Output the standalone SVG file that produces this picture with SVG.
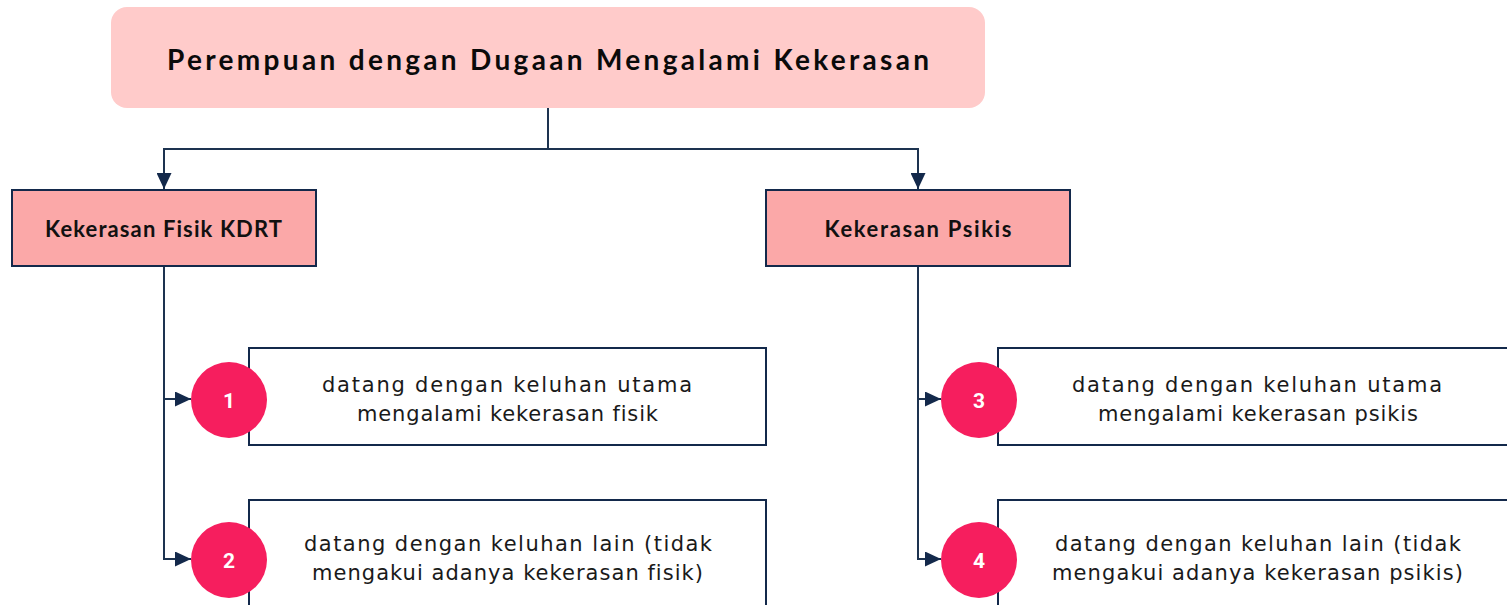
<svg xmlns="http://www.w3.org/2000/svg" width="1507" height="605" viewBox="0 0 1507 605">
  <style>
    .root-box { fill: #FFCBCA; }
    .cat-box { fill: #FBA8A8; stroke: #13294B; stroke-width: 2; }
    .item-box { fill: #FFFFFF; stroke: #13294B; stroke-width: 2; }
    .badge { fill: #F61E5E; }
    .wire { fill: none; stroke: #1D3350; stroke-width: 2; }
    text { font-variant-ligatures: none; }
    .title { font-family: Lato, "Open Sans", "Liberation Sans", sans-serif; font-weight: 700; font-size: 28px; fill: #0A0A0A; text-anchor: middle; }
    .cat { font-family: Lato, "Open Sans", "Liberation Sans", sans-serif; font-weight: 700; font-size: 22px; fill: #111111; text-anchor: middle; }
    .item { font-family: "DejaVu Sans", Lato, "Liberation Sans", sans-serif; font-weight: 400; font-size: 21px; fill: #1A1A1A; text-anchor: middle; }
    .num { font-family: Roboto, "Liberation Sans", sans-serif; font-weight: 700; font-size: 21px; fill: #FFFFFF; text-anchor: middle; }
  </style>
  <defs>
    <marker id="arrow" markerUnits="userSpaceOnUse" markerWidth="16" markerHeight="15" refX="16" refY="7.5" orient="auto">
      <path d="M0,0 L16,7.5 L0,15 Z" fill="#13294B"/>
    </marker>
  </defs>

  <!-- connectors -->
  <g id="connectors">
    <path class="wire" d="M548,108 V149 H164 V189" marker-end="url(#arrow)"/>
    <path class="wire" d="M548,149 H918 V189" marker-end="url(#arrow)"/>
    <path class="wire" d="M164,266 V399 H191" marker-end="url(#arrow)"/>
    <path class="wire" d="M164,399 V559 H191" marker-end="url(#arrow)"/>
    <path class="wire" d="M918,266 V399 H941" marker-end="url(#arrow)"/>
    <path class="wire" d="M918,399 V559 H941" marker-end="url(#arrow)"/>
  </g>

  <!-- root -->
  <g id="root">
    <rect class="root-box" x="111" y="7" width="874" height="101" rx="16" ry="16"/>
    <text class="title" x="548" y="70" textLength="762" lengthAdjust="spacing">Perempuan dengan Dugaan Mengalami Kekerasan</text>
  </g>

  <!-- categories -->
  <g id="cat-fisik">
    <rect class="cat-box" x="12" y="190" width="304" height="76"/>
    <text class="cat" x="163.5" y="237" textLength="237" lengthAdjust="spacing">Kekerasan Fisik KDRT</text>
  </g>
  <g id="cat-psikis">
    <rect class="cat-box" x="766" y="190" width="304" height="76"/>
    <text class="cat" x="918" y="237" textLength="187" lengthAdjust="spacing">Kekerasan Psikis</text>
  </g>

  <!-- items -->
  <g id="item-1">
    <rect class="item-box" x="249" y="348" width="517" height="97"/>
    <circle class="badge" cx="229" cy="400" r="38"/>
    <text class="num" x="229" y="408">1</text>
    <text class="item" x="507" y="392" textLength="370" lengthAdjust="spacing">datang dengan keluhan utama</text>
    <text class="item" x="507.5" y="421" textLength="301" lengthAdjust="spacing">mengalami kekerasan fisik</text>
  </g>
  <g id="item-2">
    <rect class="item-box" x="249" y="500" width="517" height="120"/>
    <circle class="badge" cx="229" cy="560" r="38"/>
    <text class="num" x="229" y="568">2</text>
    <text class="item" x="508" y="551" textLength="408" lengthAdjust="spacing">datang dengan keluhan lain (tidak</text>
    <text class="item" x="507.5" y="580" textLength="391" lengthAdjust="spacing">mengakui adanya kekerasan fisik)</text>
  </g>
  <g id="item-3">
    <rect class="item-box" x="998" y="348" width="517" height="97"/>
    <circle class="badge" cx="979" cy="400" r="38"/>
    <text class="num" x="979" y="408">3</text>
    <text class="item" x="1257" y="392" textLength="370" lengthAdjust="spacing">datang dengan keluhan utama</text>
    <text class="item" x="1258" y="421" textLength="320" lengthAdjust="spacing">mengalami kekerasan psikis</text>
  </g>
  <g id="item-4">
    <rect class="item-box" x="998" y="500" width="517" height="120"/>
    <circle class="badge" cx="979" cy="560" r="38"/>
    <text class="num" x="979" y="568">4</text>
    <text class="item" x="1258" y="551" textLength="406" lengthAdjust="spacing">datang dengan keluhan lain (tidak</text>
    <text class="item" x="1257.5" y="580" textLength="411" lengthAdjust="spacing">mengakui adanya kekerasan psikis)</text>
  </g>
</svg>
